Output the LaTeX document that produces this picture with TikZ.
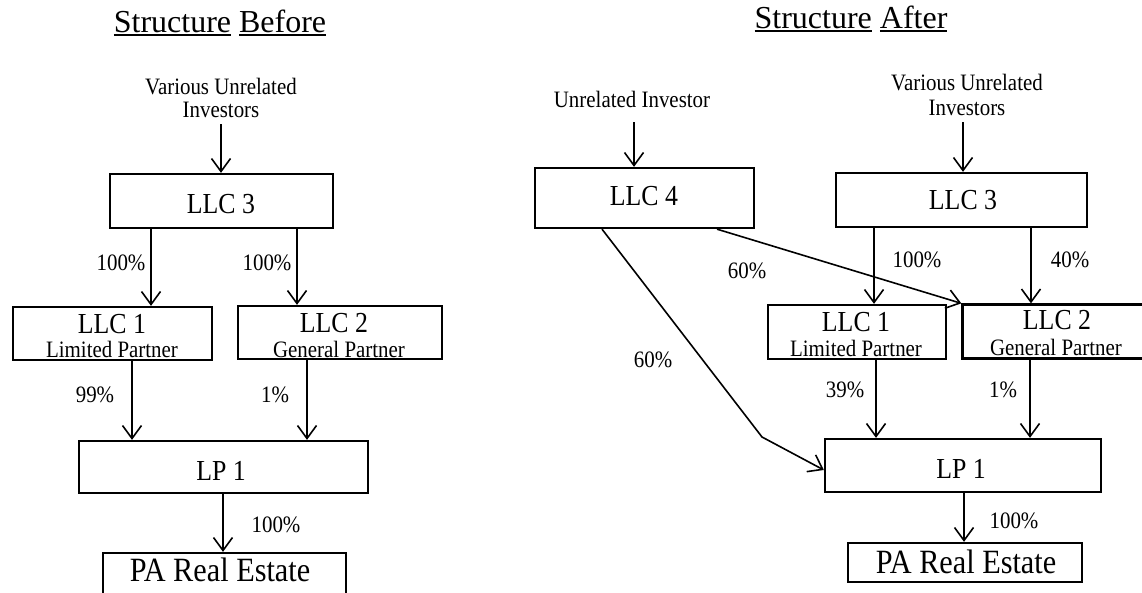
\documentclass[tikz,border=0pt]{standalone}
\usepackage{fontspec}
\setmainfont{Liberation Serif}
% narrow variant of the serif face, used for the box and label texts
\newfontfamily\condfont[FakeStretch=0.89]{Liberation Serif}
\usetikzlibrary{arrows.meta}
% heading words get a heavy underline of their own
\newcommand{\hdul}[1]{\setbox0\hbox{#1}\rlap{\rule[-4pt]{\wd0}{1.6pt}}\box0\relax}
\begin{document}
\begin{tikzpicture}[x=1pt,y=-1pt,
  box/.style={draw, line width=2.3pt, inner sep=0pt},
  hdtxt/.style={anchor=base, inner sep=0pt, font=\fontsize{32}{36}\selectfont},
  nmtxt/.style={anchor=base, inner sep=0pt, font=\condfont\fontsize{29}{33}\selectfont},
  bigtxt/.style={anchor=base, inner sep=0pt, font=\condfont\fontsize{34}{38}\selectfont},
  smtxt/.style={anchor=base, inner sep=0pt, font=\condfont\fontsize{23.5}{27}\selectfont},
  arr/.style={line width=1.6pt, -{Straight Barb[length=13pt,width=19pt,line width=1.6pt]}}]
\clip (0,0) rectangle (1142,592);
\fill[white] (0,0) rectangle (1142,592);

% ---------------- Structure Before ----------------
\node[hdtxt] (hb) at (220,32) {\hdul{Structure} \hdul{Before}};
\node[smtxt] (bv1) at (221,94) {Various Unrelated};
\node[smtxt] (bv2) at (221,117) {Investors};

\node[box, minimum width=223pt, minimum height=54pt] (b3) at (221.5,201) {};
\node[nmtxt] (b3t) at (221,213) {LLC 3};

\node[box, minimum width=199pt, minimum height=53pt] (b1) at (112.5,333.5) {};
\node[nmtxt] (b1t) at (112,333) {LLC 1};
\node[smtxt] (b1s) at (112,357) {Limited Partner};

\node[box, minimum width=204pt, minimum height=53pt] (b2) at (340,332.5) {};
\node[nmtxt] (b2t) at (334,332) {LLC 2};
\node[smtxt] (b2s) at (339,357) {General Partner};

\node[box, minimum width=289pt, minimum height=52pt] (bl) at (223.5,467) {};
\node[nmtxt] (blt) at (221,480) {LP 1};

\node[box, minimum width=243pt, minimum height=50pt] (bp) at (224.5,578) {};
\node[bigtxt] (bpt) at (220,581) {PA Real Estate};

\draw[arr] (221,124) -- (221,0 |- b3.north);
\draw[arr] (151,0 |- b3.south) -- (151,0 |- b1.north);
\draw[arr] (297,0 |- b3.south) -- (297,0 |- b2.north);
\draw[arr] (132,0 |- b1.south) -- (132,0 |- bl.north);
\draw[arr] (307,0 |- b2.south) -- (307,0 |- bl.north);
\draw[arr] (223,0 |- bl.south) -- (223,0 |- bp.north);

\node[smtxt] (bp1) at (121,270) {100\%};
\node[smtxt] (bp2) at (267,270) {100\%};
\node[smtxt] (bp3) at (95,402) {99\%};
\node[smtxt] (bp4) at (275,402) {1\%};
\node[smtxt] (bp5) at (276,532) {100\%};

% ---------------- Structure After ----------------
\node[hdtxt] (ha) at (851,28) {\hdul{Structure} \hdul{After}};
\node[smtxt] (ui) at (632,107) {Unrelated Investor};
\node[smtxt] (av1) at (967,90) {Various Unrelated};
\node[smtxt] (av2) at (967,115) {Investors};

\node[box, minimum width=219pt, minimum height=60pt] (a4) at (644.5,198) {};
\node[nmtxt] (a4t) at (644,205) {LLC 4};

\node[box, minimum width=251pt, minimum height=54pt] (a3) at (961.5,200) {};
\node[nmtxt] (a3t) at (963,209) {LLC 3};

\node[box, minimum width=178pt, minimum height=54pt] (a1) at (857,332) {};
\node[nmtxt] (a1t) at (856,331) {LLC 1};
\node[smtxt] (a1s) at (856,356) {Limited Partner};

\node[box, minimum width=200pt, minimum height=54pt] (a2) at (1062.5,331.5) {};
\node[nmtxt] (a2t) at (1057,329) {LLC 2};
\node[smtxt] (a2s) at (1056,355) {General Partner};

\node[box, minimum width=276pt, minimum height=53pt] (al) at (963,465.5) {};
\node[nmtxt] (alt) at (961,478) {LP 1};

\node[box, minimum width=234pt, minimum height=39pt] (ap) at (965,562.5) {};
\node[bigtxt] (apt) at (966,573) {PA Real Estate};

\coordinate (bend) at (762,437);
\draw[arr] (634,122) -- (634,0 |- a4.north);
\draw[arr] (963,122) -- (963,0 |- a3.north);
\draw[arr] (874,0 |- a3.south) -- (874,0 |- a1.north);
\draw[arr] (1031,0 |- a3.south) -- (1031,0 |- a2.north);
\draw[arr] (717,0 |- a4.south) -- (a2.north west);
\draw[arr] (602,0 |- a4.south) -- (bend) -- (al.west |- 0,470);
\draw[arr] (876,0 |- a1.south) -- (876,0 |- al.north);
\draw[arr] (1030,0 |- a2.south) -- (1030,0 |- al.north);
\draw[arr] (964,0 |- al.south) -- (964,0 |- ap.north);

\node[smtxt] (ap1) at (917,267) {100\%};
\node[smtxt] (ap2) at (1070,267) {40\%};
\node[smtxt] (ap3) at (747,278) {60\%};
\node[smtxt] (ap4) at (653,367) {60\%};
\node[smtxt] (ap5) at (845,397) {39\%};
\node[smtxt] (ap6) at (1003,397) {1\%};
\node[smtxt] (ap7) at (1014,528) {100\%};
\end{tikzpicture}
\end{document}
